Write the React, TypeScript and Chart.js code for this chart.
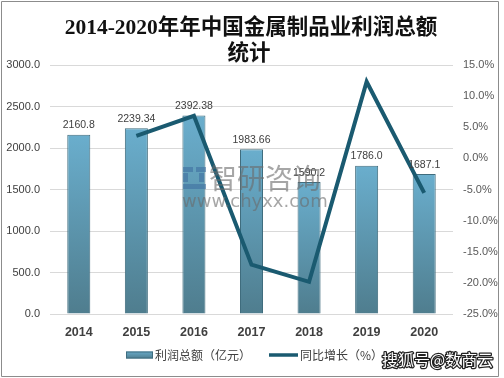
import React, { useEffect, useRef } from "react";
import { Chart, registerables } from "chart.js";

Chart.register(...registerables);

const categories = ["2014", "2015", "2016", "2017", "2018", "2019", "2020"];
const profitValues = [2160.8, 2239.34, 2392.38, 1983.66, 1590.2, 1786.0, 1687.1];
const profitLabels = ["2160.8", "2239.34", "2392.38", "1983.66", "1590.2", "1786.0", "1687.1"];
const growthValues: (number | null)[] = [null, 3.63, 6.83, -17.08, -19.84, 12.31, -5.54];
const titleLines = ["2014-2020年年中国金属制品业利润总额", "统计"];
const legendBar = "利润总额（亿元）";
const legendLine = "同比增长（%）";

const W = 504;
const H = 378;

const overlayPlugin = {
  id: "overlay",
  afterDatasetsDraw(chart: any) {
    const ctx = chart.ctx;
    const meta = chart.getDatasetMeta(1);
    ctx.save();
    ctx.font = '10.5px "Liberation Sans", "Noto Sans", sans-serif';
    ctx.fillStyle = "#404040";
    ctx.textAlign = "center";
    ctx.textBaseline = "bottom";
    meta.data.forEach((el: any, i: number) => {
      ctx.fillText(profitLabels[i], el.x, el.y - 4);
    });
    ctx.restore();
  },
  afterDraw(chart: any) {
    const ctx = chart.ctx;
    ctx.save();
    // title
    ctx.fillStyle = "#111111";
    ctx.textAlign = "center";
    ctx.textBaseline = "middle";
    ctx.font = '600 21.5px "Liberation Serif", "Noto Sans CJK SC", serif';
    ctx.fillText(titleLines[0], 251, 28);
    ctx.fillText(titleLines[1], 249, 54);

    // watermark
    ctx.globalAlpha = 0.6;
    ctx.fillStyle = "#3f6fa0";
    ctx.fillRect(183, 167, 10, 5);
    ctx.fillRect(196, 167, 10, 5);
    ctx.fillRect(183, 184, 23, 5);
    ctx.fillRect(183, 173, 5, 9);
    ctx.fillRect(199, 173, 5, 9);
    ctx.fillStyle = "#6a6a6a";
    ctx.textAlign = "left";
    ctx.font = '28px "Noto Sans CJK SC", sans-serif';
    ctx.fillText("智研咨询", 209, 178);
    ctx.font = '18px "DejaVu Sans", sans-serif';
    ctx.fillText("www.chyxx.com", 182, 202);
    ctx.globalAlpha = 1;

    // legend
    const gy = 355;
    const grad = ctx.createLinearGradient(0, gy - 4, 0, gy + 4);
    grad.addColorStop(0, "#6aadcc");
    grad.addColorStop(1, "#4e7b8c");
    ctx.fillStyle = grad;
    ctx.fillRect(126, gy - 3.5, 27, 7);
    ctx.strokeStyle = "#3e6c7e";
    ctx.lineWidth = 1;
    ctx.strokeRect(126.5, gy - 3, 26, 6);
    ctx.fillStyle = "#404040";
    ctx.font = '12px "Noto Sans CJK SC", sans-serif';
    ctx.textBaseline = "middle";
    ctx.fillText(legendBar, 155, gy);
    ctx.strokeStyle = "#1a5a70";
    ctx.lineWidth = 3.5;
    ctx.beginPath();
    ctx.moveTo(269, gy);
    ctx.lineTo(298, gy);
    ctx.stroke();
    ctx.fillText(legendLine, 300, gy);

    // sohu watermark
    ctx.font = '16px "Noto Sans CJK SC", sans-serif';
    ctx.lineWidth = 2.5;
    ctx.strokeStyle = "#222";
    ctx.lineJoin = "round";
    ctx.strokeText("搜狐号@数商云", 382, 360);
    ctx.fillStyle = "#ffffff";
    ctx.fillText("搜狐号@数商云", 382, 360);

    // border
    ctx.strokeStyle = "#8c8c8c";
    ctx.lineWidth = 1;
    ctx.strokeRect(1.5, 1.5, 497, 375);
    ctx.restore();
  },
};

export default function App() {
  const ref = useRef<HTMLCanvasElement | null>(null);
  useEffect(() => {
    document.body.style.margin = "0";
    const canvas = ref.current!;
    const chart = new Chart(canvas, {
      type: "bar",
      data: {
        labels: categories,
        datasets: [
          {
            type: "line",
            label: legendLine,
            data: growthValues,
            yAxisID: "y1",
            borderColor: "#1a5a70",
            borderWidth: 4,
            pointRadius: 0,
            tension: 0,
            spanGaps: false,
            order: 0,
          } as any,
          {
            type: "bar",
            label: legendBar,
            data: profitValues,
            yAxisID: "y",
            backgroundColor: (c: any) => {
              const chart = c.chart;
              const area = chart.chartArea;
              if (!area || c.dataIndex === undefined) return "#5e97b0";
              const v = profitValues[c.dataIndex];
              const top = chart.scales.y.getPixelForValue(v);
              const g = chart.ctx.createLinearGradient(0, top, 0, area.bottom);
              g.addColorStop(0, "#6aaecd");
              g.addColorStop(1, "#4f7d8e");
              return g;
            },
            borderColor: "#3f6c7d",
            borderWidth: 1,
            barPercentage: 0.4,
            categoryPercentage: 1,
            order: 1,
          },
        ],
      },
      options: {
        responsive: false,
        animation: false,
        layout: { padding: { top: 65, left: 0, right: 0, bottom: 0 } },
        plugins: {
          legend: { display: false },
          title: { display: false },
          tooltip: { enabled: false },
        },
        scales: {
          x: {
            grid: { display: false, drawTicks: false },
            border: { display: false },
            ticks: {
              color: "#404040",
              padding: 11,
              font: { family: '"Liberation Sans", sans-serif', size: 12.5, weight: "bold" },
            },
            afterFit: (s: any) => {
              s.height = 64;
            },
          },
          y: {
            position: "left",
            min: 0,
            max: 3000,
            grid: { color: "#d9d9d9", drawTicks: false },
            border: { display: false },
            ticks: {
              stepSize: 500,
              padding: 10,
              color: "#404040",
              font: { family: '"Liberation Sans", sans-serif', size: 11 },
              callback: (v: any) => Number(v).toFixed(1),
            },
            afterFit: (s: any) => {
              s.width = 50;
            },
          },
          y1: {
            position: "right",
            min: -25,
            max: 15,
            grid: { display: false, drawTicks: false },
            border: { display: false },
            ticks: {
              stepSize: 5,
              padding: 10,
              color: "#595959",
              font: { family: '"Liberation Sans", sans-serif', size: 11 },
              callback: (v: any) => Number(v).toFixed(1) + "%",
            },
            afterFit: (s: any) => {
              s.width = 51;
            },
          },
        },
      },
      plugins: [overlayPlugin],
    });
    return () => chart.destroy();
  }, []);
  return (
    <div style={{ position: "absolute", left: 0, top: 0, width: W, height: H, background: "#fff" }}>
      <canvas ref={ref} width={W} height={H} style={{ display: "block" }} />
    </div>
  );
}
